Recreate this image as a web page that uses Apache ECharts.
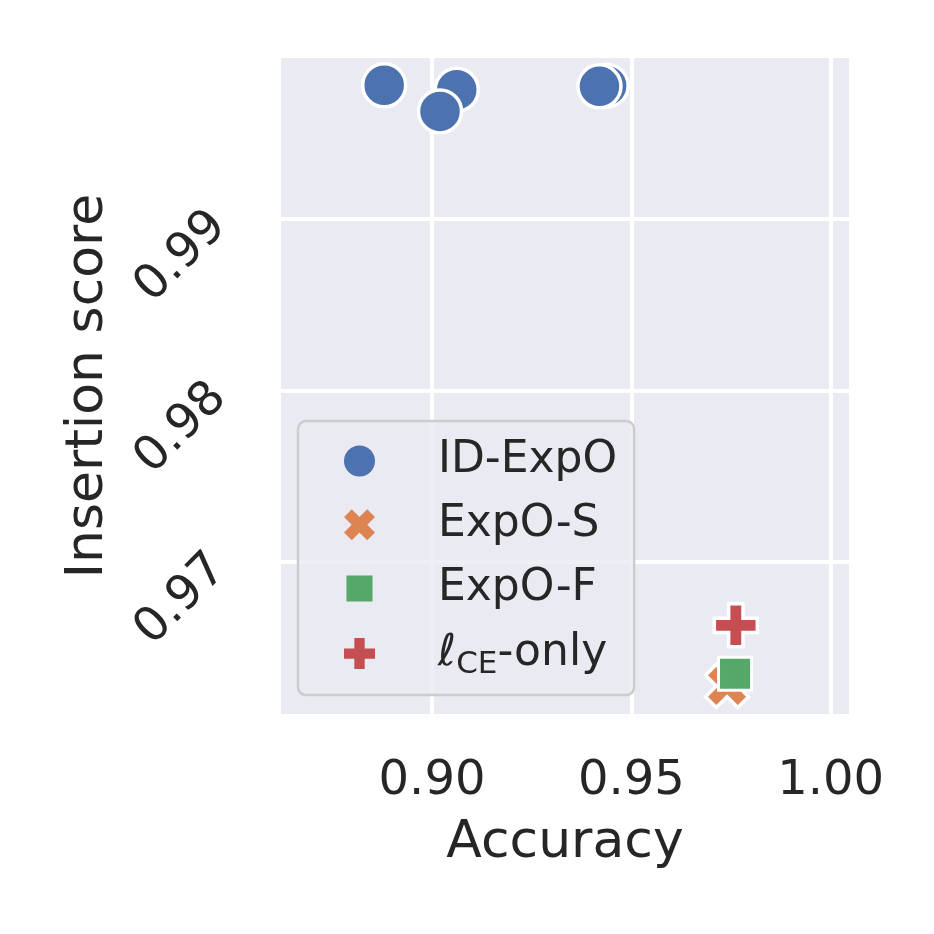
<!DOCTYPE html>
<html>
<head>
<meta charset="utf-8">
<script src="https://cdn.jsdelivr.net/npm/echarts@6/dist/echarts.min.js"></script>
<style>html,body{margin:0;padding:0;background:#fff}#c{width:934px;height:934px}</style>
</head>
<body>
<div id="c"></div>
<script>
// ---- data ----
const seriesNames = ['ID-ExpO', 'ExpO-S', 'ExpO-F', 'ℓCE-only'];
const idExpoAcc = [0.8880, 0.9062, 0.9020, 0.9438, 0.9420];
const idExpoIns = [0.99781, 0.99755, 0.99629, 0.99779, 0.99775];
const expoSAcc = [0.9740];
const expoSIns = [0.96276];
const expoFAcc = [0.9760];
const expoFIns = [0.96347];
const ceOnlyAcc = [0.9762];
const ceOnlyIns = [0.96630];
const xTicks = [0.90, 0.95, 1.00];
const yTicks = [0.97, 0.98, 0.99];
const xRange = [0.86212, 1.00459];
const yRange = [0.961127, 0.999405];

const FONT = 'DejaVu Sans';
const TXT = '#262626';
const colors = ['#4c72b0', '#dd8452', '#55a868', '#c44e52'];
const plusPath = 'path://M2 0L4 0L4 2L6 2L6 4L4 4L4 6L2 6L2 4L0 4L0 2L2 2Z';
const xPath = 'path://M4.414 0.172L5.828 1.586L4.414 3L5.828 4.414L4.414 5.828L3 4.414L1.586 5.828L0.172 4.414L1.586 3L0.172 1.586L1.586 0.172L3 1.586Z';
const smallSquarePath = 'path://M0 0L0.001 0L0.001 0.001ZM10 10L9.999 10L9.999 9.999ZM0.8 0.8L9.2 0.8L9.2 9.2L0.8 9.2Z';

function pts(xs, ys) { return xs.map((x, i) => [x, ys[i]]); }

const chart = echarts.init(document.getElementById('c'), null, {renderer: 'canvas'});
chart.setOption({
  animation: false,
  textStyle: {fontFamily: FONT, color: TXT},
  grid: {left: 281, right: 85, top: 58, bottom: 220, show: true, backgroundColor: '#eaeaf2', borderWidth: 0, containLabel: false},
  xAxis: {
    type: 'value', min: xRange[0], max: xRange[1],
    name: 'Accuracy', nameLocation: 'middle', nameGap: 103,
    nameTextStyle: {fontSize: 52, color: TXT, fontFamily: FONT},
    axisLine: {show: false}, 
    axisTick: {show: false, customValues: xTicks},
    axisLabel: {customValues: xTicks, fontSize: 48, color: TXT, fontFamily: FONT, margin: 44,
      formatter: v => v.toFixed(2)},
    splitLine: {show: true, lineStyle: {color: '#ffffff', width: 4}}
  },
  yAxis: {
    type: 'value', min: yRange[0], max: yRange[1],
    name: 'Insertion score', nameLocation: 'middle', nameGap: 167,
    nameTextStyle: {fontSize: 52, color: TXT, fontFamily: FONT},
    axisLine: {show: false},
    axisTick: {show: false, customValues: yTicks},
    axisLabel: {customValues: yTicks, fontSize: 48, color: TXT, fontFamily: FONT, margin: 62, rotate: 45,
      formatter: v => v.toFixed(2)},
    splitLine: {show: true, lineStyle: {color: '#ffffff', width: 4}}
  },
  legend: {
    orient: 'vertical', left: 298, top: 421,
    padding: [15, 17, 15, 46],
    itemWidth: 31, itemHeight: 31, itemGap: 13.7,
    backgroundColor: 'rgba(234,234,242,0.8)',
    borderColor: '#cccccc', borderWidth: 2.5, borderRadius: 8,
    itemStyle: {borderWidth: 0},
    textStyle: {fontSize: 44, color: TXT, fontFamily: FONT, lineHeight: 50, padding: [0, 0, 0, 58],
      rich: {
        l: {fontSize: 44, color: TXT, fontFamily: FONT, lineHeight: 50},
        s: {fontSize: 31, color: TXT, fontFamily: FONT, lineHeight: 50, padding: [22, 0, 0, 0]}
      }},
    formatter: function (name) {
      if (name === 'ℓCE-only') return '{l|ℓ}{s|CE}{l|-only}';
      return name;
    },
    data: [
      {name: seriesNames[0], icon: 'circle'},
      {name: seriesNames[1], icon: xPath},
      {name: seriesNames[2], icon: smallSquarePath},
      {name: seriesNames[3], icon: plusPath}
    ]
  },
  series: [
    {name: seriesNames[0], type: 'scatter', data: pts(idExpoAcc, idExpoIns), symbol: 'circle', symbolSize: 43,
      itemStyle: {color: colors[0], borderColor: '#fff', borderWidth: 3.5, opacity: 1}},
    {name: seriesNames[1], type: 'scatter', data: pts(expoSAcc, expoSIns), symbol: xPath, symbolSize: 43,
      itemStyle: {color: colors[1], borderColor: '#fff', borderWidth: 3.5, opacity: 1}},
    {name: seriesNames[2], type: 'scatter', data: pts(expoFAcc, expoFIns), symbol: 'rect', symbolSize: 33,
      itemStyle: {color: colors[2], borderColor: '#fff', borderWidth: 3, opacity: 1}},
    {name: seriesNames[3], type: 'scatter', data: pts(ceOnlyAcc, ceOnlyIns), symbol: plusPath, symbolSize: 43,
      itemStyle: {color: colors[3], borderColor: '#fff', borderWidth: 3.5, opacity: 1}}
  ]
});
</script>
</body>
</html>
